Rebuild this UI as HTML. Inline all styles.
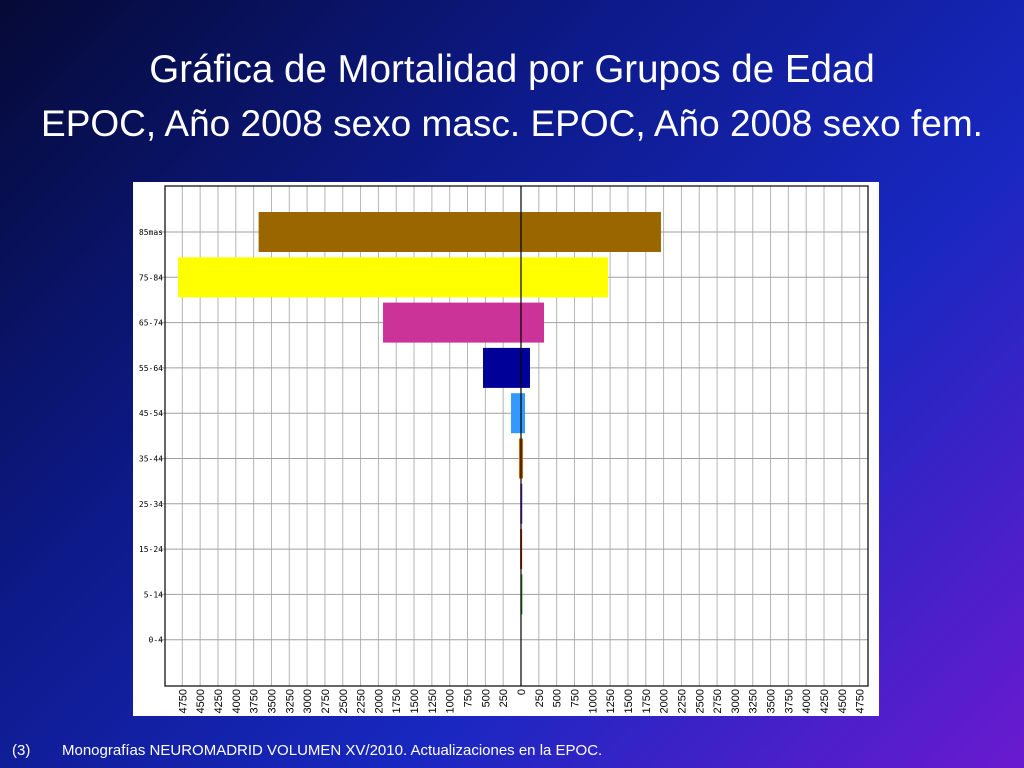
<!DOCTYPE html>
<html><head><meta charset="utf-8"><style>
body{margin:0;width:1024px;height:768px;overflow:hidden;font-family:"Liberation Sans",sans-serif;
background:linear-gradient(135deg,#050a35 0%,#0d1a8a 35%,#1828c0 65%,#6a1ad0 100%);position:relative}
.t{position:absolute;left:0;width:1024px;text-align:center;color:#fff;font-size:37px;white-space:nowrap}
.f{position:absolute;top:742px;color:#fff;font-size:15px}
</style></head><body>
<div class="t" style="top:48px;font-size:38.5px">Gráfica de Mortalidad por Grupos de Edad</div>
<div class="t" style="top:103px">EPOC, Año 2008 sexo masc. EPOC, Año 2008 sexo fem.</div>
<svg style="position:absolute;left:133px;top:182px" width="746" height="534"></svg>
<div class="f" style="left:12px">(3)</div>
<div class="f" style="left:62px">Monografías NEUROMADRID VOLUMEN XV/2010. Actualizaciones en la EPOC.</div>
<script>
const categories=["85mas","75-84","65-74","55-64","45-54","35-44","25-34","15-24","5-14","0-4"];
const male=[3680,4810,1935,533,140,28,10,12,8,0];
const female=[1963,1220,323,126,56,28,8,12,8,0];
const colors=["#996600","#ffff00","#cc3399","#000099","#3399ff","#cc6600","#6633cc","#cc3300","#339933","#339933"];
const ticks=[];for(let v=-4750;v<=4750;v+=250)ticks.push(v);
const NS="http://www.w3.org/2000/svg";
const svg=document.querySelector("svg");
function el(t,a){const e=document.createElementNS(NS,t);for(const k in a)e.setAttribute(k,a[k]);svg.appendChild(e);return e;}
const X0=388,K=0.0713;
const x=v=>X0+v*K;
const y=i=>50+i*45.3;
let bg=el("rect",{x:0,y:0,width:746,height:534,fill:"#fff"});


ticks.forEach(v=>{
 const g=el("line",{x1:x(v),x2:x(v),y1:4,y2:504,stroke:"#b4b4b4","stroke-width":1});
 
 
 const t=el("text",{transform:`translate(${x(v)+4},${507}) rotate(-90)`,"text-anchor":"end","font-size":"11","font-family":"Liberation Sans, sans-serif",fill:"#000"});
 t.textContent=Math.abs(v);
 
 
});
categories.forEach((c,i)=>{
 const g=el("line",{x1:26,x2:735,y1:y(i),y2:y(i),stroke:"#a0a0a0","stroke-width":1});
 
 
 const t=el("text",{x:30,y:y(i)+3,"text-anchor":"end","font-size":"8","font-family":"DejaVu Sans Mono, monospace",fill:"#000"});
 t.textContent=c;
 
 
 if(male[i]+female[i]>0){
  const b=el("rect",{x:x(-male[i]),y:y(i)-20,width:Math.max(2,(male[i]+female[i])*K),height:40,fill:colors[i]});
  
  
 }
});
let ax=el("rect",{x:32,y:4,width:703,height:500,fill:"none",stroke:"#000","stroke-width":1.2});


let z=el("line",{x1:X0,x2:X0,y1:4,y2:504,stroke:"#000","stroke-width":1.2});


</script>
</body></html>
